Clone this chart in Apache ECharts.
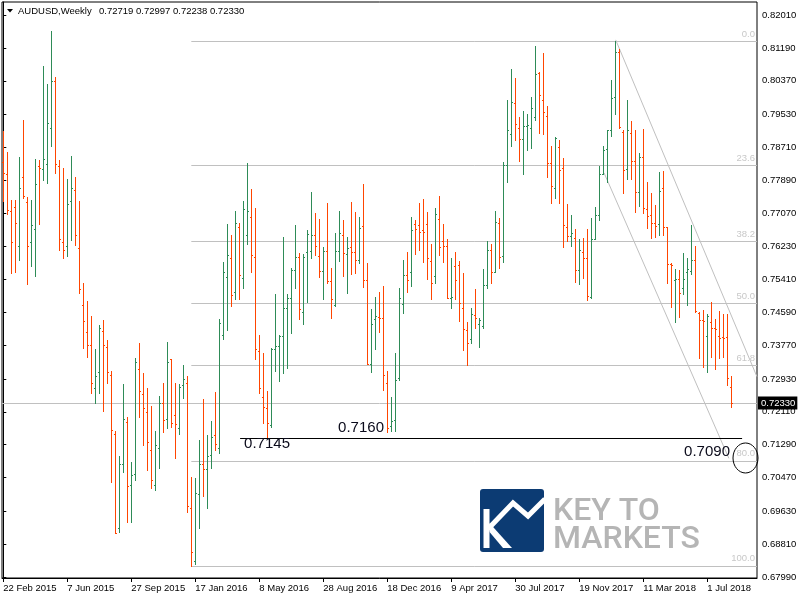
<!DOCTYPE html>
<html><head><meta charset="utf-8">
<script src="https://cdn.jsdelivr.net/npm/echarts@6/dist/echarts.min.js"></script>
<style>html,body{margin:0;padding:0;background:#fff}#c{width:800px;height:600px}</style>
</head><body><div id="c"></div>
<script>
// ---- DATA (AUDUSD weekly, one bar per week starting 22 Feb 2015) ----
const symbolName = "AUDUSD";
const timeframe = "Weekly";
const opens = [
0.7835,0.7804,0.7712,0.7721,0.7626,0.7796,0.7735,0.7634,0.7666,0.7824,
0.7816,0.7829,0.7918,0.8036,0.7824,0.7634,0.7624,0.7736,0.7764,0.7621,
0.7477,0.7410,0.7377,0.7270,0.7310,0.7413,0.7372,0.7303,0.7156,0.6920,
0.7080,0.7185,0.7029,0.7055,0.7317,0.7256,0.7210,0.7116,0.7029,0.7120,
0.7232,0.7192,0.7342,0.7203,0.7170,0.7278,0.7282,0.6970,0.6840,0.7005,
0.7080,0.7068,0.7103,0.7153,0.7120,0.7403,0.7547,0.7594,0.7511,0.7671,
0.7544,0.7652,0.7696,0.7597,0.7362,0.7247,0.7220,0.7178,0.7367,0.7376,
0.7400,0.7471,0.7496,0.7565,0.7597,0.7459,0.7611,0.7612,0.7652,0.7600,
0.7563,0.7612,0.7538,0.7478,0.7612,0.7652,0.7605,0.7623,0.7609,0.7590,
0.7675,0.7540,0.7330,0.7442,0.7448,0.7444,0.7282,0.7175,0.7190,0.7295,
0.7479,0.7552,0.7559,0.7679,0.7677,0.7665,0.7679,0.7587,0.7550,0.7692,
0.7637,0.7625,0.7494,0.7576,0.7577,0.7469,0.7415,0.7393,0.7453,0.7429,
0.7424,0.7528,0.7615,0.7561,0.7681,0.7600,0.7827,0.7903,0.7981,0.7918,
0.7891,0.7925,0.7918,0.7946,0.8057,0.7989,0.7949,0.7831,0.7769,0.7871,
0.7820,0.7673,0.7650,0.7644,0.7565,0.7611,0.7594,0.7497,0.7641,0.7702,
0.7804,0.7866,0.7913,0.7997,0.8110,0.7910,0.7816,0.7906,0.7837,0.7760,
0.7846,0.7716,0.7702,0.7681,0.7680,0.7769,0.7671,0.7580,0.7540,0.7542,
0.7519,0.7559,0.7562,0.7590,0.7457,0.7440,0.7400,0.7434,0.7419,0.7399,
0.7397,0.7397,0.72719];
const highs = [
0.7912,0.7860,0.7740,0.7740,0.7847,0.7939,0.7746,0.7740,0.7842,0.7839,
0.8074,0.8029,0.8161,0.8046,0.7839,0.7819,0.7792,0.7849,0.7796,0.7738,
0.7533,0.7488,0.7450,0.7368,0.7428,0.7440,0.7390,0.7314,0.7163,0.7101,
0.7281,0.7197,0.7087,0.7346,0.7384,0.7309,0.7271,0.7226,0.7162,0.7251,
0.7284,0.7386,0.7344,0.7282,0.7280,0.7328,0.7301,0.7049,0.7047,0.7141,
0.7243,0.7153,0.7188,0.7261,0.7443,0.7586,0.7680,0.7651,0.7712,0.7681,
0.7737,0.7833,0.7766,0.7720,0.7403,0.7357,0.7264,0.7370,0.7505,0.7403,
0.7646,0.7505,0.7571,0.7677,0.7608,0.7605,0.7665,0.7760,0.7706,0.7692,
0.7623,0.7733,0.7569,0.7656,0.7711,0.7690,0.7648,0.7735,0.7709,0.7696,
0.7779,0.7582,0.7468,0.7497,0.7511,0.7526,0.7314,0.7249,0.7359,0.7521,
0.7590,0.7611,0.7698,0.7690,0.7733,0.7742,0.7709,0.7631,0.7719,0.7750,
0.7679,0.7641,0.7596,0.7609,0.7587,0.7557,0.7436,0.7469,0.7517,0.7446,
0.7567,0.7636,0.7629,0.7712,0.7694,0.7835,0.7989,0.8066,0.8045,0.7946,
0.7962,0.7954,0.7997,0.8124,0.8060,0.8106,0.7974,0.7874,0.7896,0.7889,
0.7845,0.7730,0.7702,0.7666,0.7641,0.7644,0.7666,0.7694,0.7721,0.7824,
0.7874,0.7914,0.8039,0.8136,0.8115,0.7914,0.7989,0.7937,0.7914,0.7856,
0.7917,0.7785,0.7758,0.7727,0.7810,0.7813,0.7673,0.7582,0.7567,0.7565,
0.7607,0.7594,0.7677,0.7625,0.7460,0.7465,0.7455,0.7486,0.7442,0.7463,
0.7455,0.7455,0.72997];
const lows = [
0.7738,0.7705,0.7558,0.7561,0.7589,0.7744,0.7531,0.7576,0.7551,0.7680,
0.7789,0.7783,0.7875,0.7808,0.7615,0.7596,0.7601,0.7640,0.7627,0.7508,
0.7371,0.7349,0.7259,0.7234,0.7259,0.7214,0.7284,0.7037,0.6908,0.6912,
0.7062,0.6937,0.6937,0.7041,0.7199,0.7128,0.7066,0.7022,0.7016,0.7070,
0.7160,0.7170,0.7172,0.7097,0.7155,0.7245,0.6962,0.6827,0.6831,0.6920,
0.7002,0.6972,0.7072,0.7116,0.7109,0.7392,0.7414,0.7476,0.7492,0.7493,
0.7521,0.7631,0.7559,0.7343,0.7257,0.7184,0.7148,0.7174,0.7314,0.7289,
0.7307,0.7321,0.7407,0.7521,0.7442,0.7430,0.7486,0.7596,0.7602,0.7548,
0.7493,0.7533,0.7444,0.7475,0.7587,0.7550,0.7507,0.7555,0.7557,0.7582,
0.7522,0.7330,0.7311,0.7368,0.7411,0.7266,0.7160,0.7162,0.7163,0.7291,
0.7457,0.7511,0.7526,0.7605,0.7615,0.7586,0.7543,0.7492,0.7533,0.7602,
0.7586,0.7494,0.7471,0.7493,0.7438,0.7365,0.7328,0.7384,0.7419,0.7372,
0.7421,0.7521,0.7533,0.7561,0.7571,0.7586,0.7785,0.7874,0.7889,0.7838,
0.7804,0.7864,0.7870,0.7938,0.7906,0.7904,0.7798,0.7731,0.7745,0.7733,
0.7623,0.7638,0.7625,0.7536,0.7530,0.7544,0.7491,0.7494,0.7641,0.7690,
0.7804,0.7785,0.7899,0.7954,0.7918,0.7758,0.7791,0.7791,0.7710,0.7725,
0.7706,0.7669,0.7644,0.7648,0.7652,0.7652,0.7532,0.7472,0.7436,0.7447,
0.7504,0.7478,0.7555,0.7461,0.7346,0.7322,0.7311,0.7349,0.7317,0.7346,
0.7349,0.7278,0.72238];
const closes = [
0.7808,0.7715,0.7634,0.7681,0.7769,0.7749,0.7626,0.7676,0.7779,0.7819,
0.7841,0.7931,0.8036,0.7829,0.7641,0.7614,0.7729,0.7769,0.7651,0.7517,
0.7438,0.7379,0.7282,0.7300,0.7419,0.7377,0.7310,0.7166,0.6910,0.7080,
0.7192,0.7026,0.7054,0.7336,0.7263,0.7220,0.7137,0.7041,0.7128,0.7232,
0.7191,0.7336,0.7184,0.7180,0.7272,0.7293,0.6976,0.6861,0.7008,0.7080,
0.7068,0.7101,0.7149,0.7130,0.7432,0.7559,0.7602,0.7503,0.7681,0.7552,
0.7716,0.7712,0.7602,0.7367,0.7270,0.7224,0.7182,0.7367,0.7376,0.7399,
0.7469,0.7496,0.7565,0.7597,0.7467,0.7598,0.7654,0.7651,0.7626,0.7563,
0.7612,0.7538,0.7492,0.7612,0.7656,0.7607,0.7619,0.7609,0.7590,0.7669,
0.7540,0.7330,0.7429,0.7449,0.7444,0.7303,0.7170,0.7188,0.7291,0.7494,
0.7552,0.7540,0.7665,0.7666,0.7659,0.7660,0.7594,0.7532,0.7704,0.7622,
0.7625,0.7494,0.7497,0.7540,0.7483,0.7417,0.7382,0.7454,0.7444,0.7440,
0.7528,0.7615,0.7561,0.7684,0.7597,0.7827,0.7914,0.7983,0.7928,0.7891,
0.7925,0.7927,0.7968,0.8055,0.8002,0.7960,0.7831,0.7775,0.7893,0.7814,
0.7677,0.7650,0.7656,0.7565,0.7615,0.7594,0.7501,0.7641,0.7702,0.7804,
0.7864,0.7913,0.7993,0.8110,0.7921,0.7814,0.7914,0.7837,0.7760,0.7846,
0.7720,0.7700,0.7683,0.7675,0.7763,0.7671,0.7580,0.7577,0.7542,0.7508,
0.7542,0.7567,0.7590,0.7463,0.7440,0.7438,0.7450,0.7419,0.7417,0.7395,
0.7396,0.7296,0.72330];

// axis tick labels
const xTickLabels = ["22 Feb 2015","7 Jun 2015","27 Sep 2015","17 Jan 2016","8 May 2016","28 Aug 2016",
  "18 Dec 2016","9 Apr 2017","30 Jul 2017","19 Nov 2017","11 Mar 2018","1 Jul 2018"];
const xTickStepBars = 16;
const yTickLabels = ["0.67990","0.68810","0.69630","0.70470","0.71290","0.72110","0.72930","0.73770","0.74590",
  "0.75410","0.76230","0.77070","0.77890","0.78710","0.79530","0.80370","0.81190","0.82010"];

// Fibonacci retracement (drawn from the Jan 2016 low bar to the Jan 2018 high)
const fibLabels = ["0.0","23.6","38.2","50.0","61.8","80.0","100.0"];
const fibLevels = [0.8136,0.7827,0.7636,0.74815,0.7327,0.70888,0.6827];
const fibStartBar = 47;
// annotations: [barIndex, price]
const supportLine = [[59.2,0.7145],[184.7,0.7145]];
const channelUpper = [[153.1,0.8139],[188.4,0.7299]];
const channelLower = [[150.2,0.7807],[181.4,0.7095]];
const noteTexts = [{text:"0.7145", at:[60.2,0.71321]},{text:"0.7160", at:[83.7,0.71720]},{text:"0.7090", at:[170.2,0.71109]}];
const circleAt = [185.55,0.70959];

// ---- CHART ----
const GREEN = '#2e8b57', RED = '#ff4500', SILVER = '#c0c0c0';
const FONT = '"Liberation Sans", Arial, sans-serif';
const X_MIN = -0.325, X_MAX = 188.425, Y_MIN = 0.67965, Y_MAX = 0.82335;
const N = opens.length;
const lastPrice = closes[N-1];
const barData = opens.map((o,i)=>[i, o, highs[i], lows[i], closes[i]]);
const xTickIdx = xTickLabels.map((_,i)=>i*xTickStepBars);
const yTickVals = yTickLabels.map(Number);
const near = (arr, v) => arr.findIndex(a => Math.abs(a - v) < 1e-7);

function renderBar(params, api){
  const i = api.value(0);
  const o = api.coord([i, api.value(1)]);
  const h = api.coord([i, api.value(2)]);
  const l = api.coord([i, api.value(3)]);
  const c = api.coord([i, api.value(4)]);
  const color = api.value(4) >= api.value(1) ? GREEN : RED;
  const x = Math.floor(o[0]) + 0.5;
  const yh = Math.round(h[1]), yl = Math.round(l[1]);
  const yo = Math.round(o[1]) + 0.5, yc = Math.round(c[1]) + 0.5;
  const st = {stroke:color, fill:'none', lineWidth:1};
  return {type:'group', children:[
    {type:'line', shape:{x1:x, y1:yh, x2:x, y2:Math.max(yh+1, yl+1)}, style:st},
    {type:'line', shape:{x1:x-1.5, y1:yo, x2:x-0.5, y2:yo}, style:st},
    {type:'line', shape:{x1:x+0.5, y1:yc, x2:x+1.5, y2:yc}, style:st}
  ]};
}

const chart = echarts.init(document.getElementById('c'), null, {renderer:'canvas', width:800, height:600});

const fibML = fibLevels.map((lv,i)=>[
  {name:fibLabels[i], coord:[fibStartBar, lv]},
  {coord:[X_MAX, lv]}
]);
const pair = (seg, color) => [{coord:seg[0], lineStyle:{color:color}, label:{show:false}}, {coord:seg[1]}];

const option = {
  animation:false,
  backgroundColor:'#fff',
  grid:{left:2, right:43, top:2, bottom:22, show:true, borderColor:'#000', borderWidth:1, backgroundColor:'transparent'},
  xAxis:{type:'value', min:X_MIN, max:X_MAX,
    axisLine:{show:true, onZero:false, lineStyle:{color:'#000'}},
    splitLine:{show:false},
    axisTick:{show:true, customValues:xTickIdx, length:4, lineStyle:{color:'#000'}},
    axisLabel:{show:true, customValues:xTickIdx, formatter:v=>xTickLabels[near(xTickIdx,v)],
      align:'left', margin:5, fontSize:9.5, fontFamily:FONT, color:'#000'}},
  yAxis:{type:'value', position:'right', min:Y_MIN, max:Y_MAX,
    axisLine:{show:true, lineStyle:{color:'#000'}},
    splitLine:{show:false},
    axisTick:{show:true, customValues:yTickVals, length:3, lineStyle:{color:'#000'}},
    axisLabel:{show:true, customValues:yTickVals, formatter:v=>yTickLabels[near(yTickVals,v)],
      margin:5, fontSize:9.5, fontFamily:FONT, color:'#000'}},
  series:[
    {type:'line', data:[], z:1, silent:true,
      markLine:{silent:true, symbol:'none', animation:false,
        lineStyle:{color:SILVER, width:1, type:'solid'},
        label:{show:true, position:'insideEndTop', formatter:p=>p.name, color:'#c8c8c8', fontSize:9.5, fontFamily:FONT, distance:2},
        data:[
          ...fibML,
          [{coord:[X_MIN,lastPrice], label:{show:true, position:'end', formatter:lastPrice.toFixed(5), color:'#fff', backgroundColor:'#000',
             padding:[2,2,1,3], distance:1, fontSize:9.5, fontFamily:FONT}}, {coord:[X_MAX,lastPrice]}],
          pair(channelUpper, SILVER),
          pair(channelLower, SILVER),
          pair(supportLine, '#000')
        ]}},
    {type:'custom', renderItem:renderBar, data:barData, encode:{x:0, y:[1,2,3,4]}, z:10, clip:true}
  ]
};
chart.setOption(option);

// annotation / header / watermark graphics
const P = (pt) => chart.convertToPixel({gridIndex:0}, pt);
const g = [];
g.push({type:'polygon', shape:{points:[[7,9],[13,9],[10,12.5]]}, style:{fill:'#000'}});
g.push({type:'text', x:18, y:11, style:{text:symbolName+','+timeframe, font:'9.5px '+FONT, fill:'#000', verticalAlign:'middle'}});
g.push({type:'text', x:99, y:11, style:{text:[opens[N-1],highs[N-1],lows[N-1],closes[N-1]].map(v=>v.toFixed(5)).join(' '),
  font:'9.5px '+FONT, fill:'#000', verticalAlign:'middle'}});
noteTexts.forEach(n=>{
  const p = P(n.at);
  g.push({type:'text', x:p[0], y:p[1], z:100, style:{text:n.text, font:'15px '+FONT, fill:'#0a0a1a', verticalAlign:'middle', align:'left'}});
});
const cp = P(circleAt);
g.push({type:'ellipse', shape:{cx:cp[0], cy:cp[1], rx:12.5, ry:15}, z:100, style:{fill:'none', stroke:'#000', lineWidth:1}});
// Key to Markets watermark
g.push({type:'rect', shape:{x:480, y:489, width:64, height:63, r:3}, style:{fill:'#0c3b73'}});
g.push({type:'rect', shape:{x:483.5, y:509, width:6, height:39}, style:{fill:'#fff'}});
g.push({type:'polygon', shape:{points:[[489.5,523],[489.5,532],[503,548],[512,548]]}, style:{fill:'#fff'}});
g.push({type:'polyline', shape:{points:[[488,529],[513,503],[528,516],[545,499]]}, style:{stroke:'#fff', lineWidth:5, fill:'none', lineJoin:'miter'}});
g.push({type:'text', x:553, y:512, style:{text:'KEY TO', font:'500 32px Roboto, "Liberation Sans", sans-serif', fill:'#b5b5b5', verticalAlign:'middle'}});
g.push({type:'text', x:553, y:540, style:{text:'MARKETS', font:'500 32px Roboto, "Liberation Sans", sans-serif', fill:'#b5b5b5', verticalAlign:'middle'}});
chart.setOption({graphic:g});
</script>
</body></html>
